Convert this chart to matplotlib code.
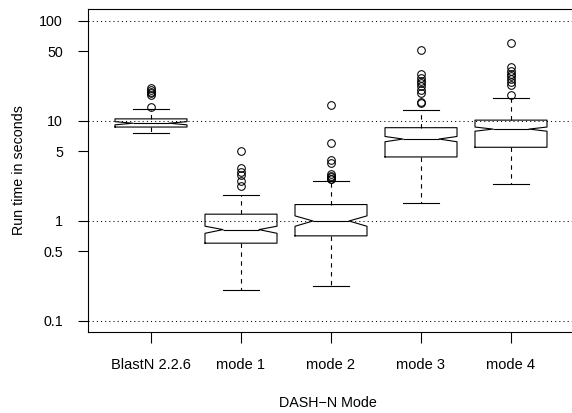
import matplotlib
matplotlib.use("Agg")
import matplotlib.pyplot as plt

plt.rcParams["font.family"] = ["Liberation Sans", "DejaVu Sans"]

labels = ["BlastN 2.2.6", "mode 1", "mode 2", "mode 3", "mode 4"]
medians = [9.5, 0.82, 1.0, 6.6, 8.3]
q1 = [8.7, 0.60, 0.71, 4.37, 5.46]
q3 = [10.5, 1.17, 1.46, 8.57, 10.2]
whis_lo = [7.5, 0.204, 0.224, 1.52, 2.34]
whis_hi = [13.2, 1.82, 2.53, 12.9, 17.1]
notch_lo = [9.15, 0.753, 0.885, 6.2, 7.9]
notch_hi = [9.85, 0.887, 1.125, 7.0, 8.7]
outliers = [
   [13.7, 18.2, 18.9, 19.6, 20.4, 21.5],
   [2.24, 2.53, 2.88, 3.11, 3.37, 5.0],
   [2.6, 2.65, 2.75, 2.85, 2.95, 3.8, 4.1, 6.07, 14.6],
   [15.0, 15.5, 18.9, 20.4, 22.4, 23.9, 25.1, 27.1, 29.5, 51.3],
   [18.2, 22.9, 24.4, 26.2, 28.2, 29.5, 31.6, 35.0, 59.8],
]
yticks = [0.1, 0.5, 1, 5, 10, 50, 100]
ytick_labels = ["0.1", "0.5", "1", "5", "10", "50", "100"]
grid_levels = [0.1, 1, 10, 100]

stats = []
for i in range(len(labels)):
   stats.append({
      "med": medians[i], "q1": q1[i], "q3": q3[i],
      "whislo": whis_lo[i], "whishi": whis_hi[i],
      "cilo": notch_lo[i], "cihi": notch_hi[i],
      "fliers": outliers[i], "label": labels[i],
   })

fig = plt.figure(figsize=(5.72, 4.13), dpi=100)
ax = fig.add_axes([88 / 572, 81 / 413, 486 / 572, 323 / 413])

# dotted reference lines at each decade
for lv in grid_levels:
   ax.axhline(lv, color="black", lw=0.75, linestyle=(0, (1, 3)), zorder=0)

lw = 0.8
positions = list(range(1, len(labels) + 1))
ax.bxp(
   stats, positions=positions, widths=0.8, capwidths=0.4, shownotches=True,
   boxprops=dict(color="black", lw=lw),
   whiskerprops=dict(color="black", lw=lw, linestyle=(0, (4, 4))),
   capprops=dict(color="black", lw=lw),
   medianprops=dict(color="black", lw=lw),
   flierprops=dict(marker="o", markerfacecolor="none", markeredgecolor="black",
                   markersize=5.5, markeredgewidth=0.75, linestyle="none"),
)

ax.set_yscale("log")
ax.set_ylim(0.0776, 131.8)
ax.set_xlim(0.3, 5.7)
ax.set_yticks(yticks)
ax.set_yticklabels(ytick_labels)
ax.minorticks_off()
ax.set_xticks(positions)
ax.set_xticklabels(labels)
ax.tick_params(axis="y", length=7, width=0.8, pad=11, labelsize=10.3)
ax.tick_params(axis="x", length=8, width=0.8, pad=11, labelsize=10.5)
for sp in ax.spines.values():
   sp.set_linewidth(0.8)

fig.text(19 / 572, 1 - 170 / 413, "Run time in seconds", rotation=90,
         ha="center", va="center", fontsize=10.3)
fig.text(328 / 572, 1 - 403 / 413, "DASH\u2212N Mode", ha="center", va="center",
         fontsize=10.3)

fig.savefig("out.png", dpi=100)
